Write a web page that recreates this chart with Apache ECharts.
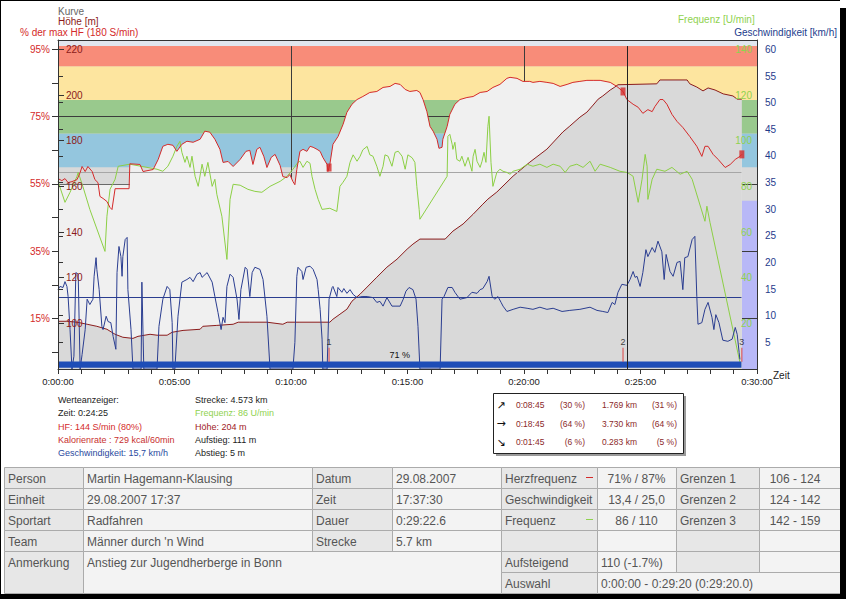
<!DOCTYPE html>
<html><head><meta charset="utf-8">
<script src="https://cdn.jsdelivr.net/npm/echarts@6/dist/echarts.min.js"></script>
<style>html,body{margin:0;padding:0;background:#fff;}#c{width:846px;height:599px;}</style>
</head><body><div id="c"></div>
<script>
// ---------------- DATA ----------------
// heart rate in % of max HF (180 S/min): [seconds, percent]
const hrData = [[0,56.6],[10,56.0],[18,56.6],[26,55.4],[36,55.7],[49,56.3],[57,58.4],[62,60.2],[70,58.7],[77,60.2],[88,58.7],[95,56.3],[103,55.4],[108,51.3],[116,50.7],[126,49.8],[134,48.0],[139,47.4],[147,53.6],[183,53.6],[185,61.0],[211,60.8],[219,58.7],[245,59.3],[258,62.3],[270,66.2],[283,66.8],[296,66.5],[306,64.7],[319,66.8],[332,67.7],[348,67.4],[366,68.3],[378,70.7],[391,70.4],[404,68.3],[417,65.3],[425,61.4],[438,61.7],[451,60.2],[469,62.3],[484,64.7],[494,65.0],[502,60.8],[512,65.3],[520,65.9],[530,63.2],[538,59.9],[549,62.9],[559,63.8],[572,60.5],[579,57.2],[590,56.9],[597,57.8],[605,55.7],[610,54.8],[615,59.3],[623,64.7],[631,65.3],[641,64.7],[649,66.2],[657,65.9],[667,65.3],[675,64.7],[682,62.9],[693,60.8],[695,58.7],[700,60.8],[708,66.8],[721,69.1],[734,72.7],[744,76.3],[757,78.7],[770,80.1],[785,81.0],[803,82.2],[821,82.5],[837,83.7],[855,84.0],[868,84.9],[881,84.6],[894,83.1],[906,82.5],[924,82.8],[932,82.2],[940,80.1],[950,76.5],[958,72.1],[966,70.7],[976,68.3],[981,65.6],[989,65.9],[991,68.3],[1002,72.1],[1009,75.7],[1022,78.7],[1035,80.1],[1053,80.7],[1069,81.0],[1087,82.2],[1105,82.5],[1120,83.7],[1138,84.6],[1156,86.4],[1164,86.7],[1182,86.4],[1197,85.5],[1215,85.5],[1223,85.2],[1241,85.5],[1259,85.2],[1275,84.9],[1293,84.0],[1311,84.6],[1326,85.2],[1344,85.5],[1362,85.8],[1378,85.8],[1396,85.8],[1422,85.2],[1439,84.0],[1455,82.5],[1465,80.1],[1481,78.7],[1494,77.8],[1506,76.0],[1519,77.1],[1530,76.5],[1537,78.0],[1550,80.1],[1558,80.1],[1568,78.7],[1581,75.7],[1594,73.6],[1609,71.8],[1627,69.1],[1645,66.2],[1658,63.2],[1666,66.2],[1674,66.2],[1687,63.8],[1700,62.3],[1718,59.9],[1731,60.8],[1744,62.3],[1756,63.2],[1761,63.8]];
// start of the HR area fill (first minutes held at this level)
const hrFillStart = [[0,54.8],[185,54.8]];

// altitude [seconds, m]
const altData = [[0,100.9],[23,100.9],[49,100.5],[75,99.6],[100,98.7],[126,97.4],[147,95.2],[167,93.9],[193,93.4],[206,94.3],[237,95.2],[255,94.8],[281,94.8],[294,96.1],[322,96.9],[366,97.4],[373,98.7],[409,99.1],[451,99.6],[464,100.5],[494,100.5],[538,100.5],[579,99.6],[590,100.5],[623,100.5],[700,100.5],[708,101.8],[726,104.0],[744,106.2],[757,109.7],[778,112.8],[796,115.9],[821,120.2],[847,124.6],[873,128.1],[899,132.5],[914,134.7],[932,136.9],[997,136.9],[1017,140.4],[1043,143.5],[1069,147.8],[1094,152.2],[1107,154.4],[1130,157.5],[1172,164.5],[1215,170.6],[1259,176.3],[1300,183.8],[1318,186.4],[1344,190.3],[1362,192.5],[1378,195.6],[1391,198.2],[1403,199.6],[1422,202.2],[1434,203.5],[1442,204.5],[1542,204.9],[1550,206.6],[1620,206.6],[1627,204.9],[1645,203.5],[1661,201.8],[1674,203.1],[1692,202.2],[1713,200.5],[1738,199.6],[1749,198.2],[1761,198.2]];

// cadence (Frequenz) [seconds, U/min]
const cadData = [[0,82.2],[18,73.0],[31,77.4],[49,84.4],[52,86.1],[64,80.0],[82,69.9],[121,51.5],[126,66.9],[134,78.7],[147,83.1],[155,88.8],[185,89.7],[255,87.5],[270,86.6],[283,88.8],[296,93.2],[306,97.5],[314,99.7],[319,94.9],[327,90.5],[332,93.2],[340,88.3],[345,93.2],[353,84.4],[361,80.0],[371,89.7],[378,84.4],[386,90.5],[397,80.0],[404,83.1],[409,76.5],[422,66.9],[435,48.0],[443,74.3],[451,80.9],[469,80.5],[489,78.7],[507,77.8],[525,77.4],[546,80.0],[572,82.2],[590,84.4],[605,87.5],[618,90.5],[623,91.0],[631,88.3],[641,91.0],[649,90.1],[654,84.4],[662,78.7],[670,74.3],[680,69.9],[700,70.4],[718,69.0],[726,80.0],[734,81.8],[744,84.4],[752,90.5],[760,93.8],[770,91.0],[778,93.2],[785,96.0],[796,97.5],[803,93.8],[811,93.2],[821,88.8],[829,84.4],[837,88.8],[842,93.8],[850,93.2],[860,88.8],[868,94.9],[876,95.4],[886,93.2],[894,87.5],[901,93.8],[912,92.5],[919,90.5],[924,80.0],[930,69.9],[932,65.6],[1002,84.4],[1004,101.9],[1009,102.8],[1015,98.4],[1017,96.2],[1022,99.3],[1027,91.8],[1035,91.0],[1040,93.2],[1048,88.8],[1056,92.7],[1066,86.6],[1069,93.2],[1074,96.2],[1079,91.0],[1087,88.3],[1092,91.0],[1097,94.9],[1102,90.5],[1107,106.3],[1110,110.7],[1115,90.5],[1120,80.0],[1130,86.1],[1138,87.5],[1146,86.6],[1156,86.1],[1164,85.3],[1172,86.6],[1190,87.5],[1208,89.7],[1223,88.8],[1241,89.7],[1259,88.3],[1275,89.7],[1293,88.8],[1306,86.1],[1318,88.8],[1336,89.7],[1352,88.3],[1370,91.0],[1383,86.6],[1396,89.7],[1422,88.3],[1447,86.6],[1465,86.1],[1473,85.3],[1481,84.4],[1494,73.0],[1504,83.1],[1512,94.0],[1517,88.8],[1519,74.3],[1530,83.1],[1542,87.5],[1563,86.6],[1581,88.3],[1602,85.3],[1620,86.6],[1633,83.1],[1666,64.7],[1671,71.3],[1679,64.2],[1756,2.9]];

// speed [seconds, km/h]
const spdData = [[0,14.9],[5,15.5],[13,15.3],[18,16.4],[23,15.5],[26,13.6],[31,7.4],[36,0],[41,2.4],[46,18.1],[52,17.8],[57,0],[62,2.7],[70,7.4],[75,13.1],[82,12.1],[90,13.1],[93,17.4],[98,20.9],[100,18.7],[106,14.9],[113,8.0],[116,7.4],[124,9.9],[129,8.9],[136,8.7],[142,6.1],[149,3.7],[152,18.1],[157,23.0],[162,21.1],[165,17.4],[167,21.1],[173,24.3],[178,24.7],[180,14.9],[188,7.4],[193,0],[214,0],[216,16.3],[221,0],[255,0],[260,8.0],[270,13.1],[281,15.5],[288,14.9],[294,8.7],[296,0],[301,0],[309,9.9],[319,16.3],[332,16.8],[340,17.2],[348,16.4],[358,17.8],[366,18.1],[371,17.2],[384,18.1],[397,16.3],[404,13.6],[412,10.6],[420,7.4],[425,9.7],[430,8.7],[435,15.5],[443,17.8],[451,17.2],[461,13.1],[466,9.3],[471,14.9],[482,19.1],[487,18.7],[494,13.6],[500,18.1],[507,19.1],[520,18.7],[528,16.8],[538,9.9],[546,0],[605,0],[610,5.0],[615,17.4],[618,19.1],[628,18.3],[631,16.8],[639,19.1],[649,19.3],[657,18.7],[667,16.8],[670,14.9],[675,11.2],[680,5.6],[682,0],[693,0],[698,13.1],[706,15.3],[708,15.5],[718,13.6],[721,15.3],[731,14.4],[736,15.1],[744,14.2],[752,14.9],[760,14.0],[770,13.4],[783,13.6],[796,13.6],[811,13.4],[821,12.5],[829,12.7],[837,11.8],[847,13.4],[860,11.8],[868,11.8],[881,11.8],[889,13.1],[896,14.6],[904,15.3],[914,14.9],[922,13.1],[927,8.0],[932,0],[984,0],[989,13.1],[994,13.6],[1004,15.3],[1015,15.3],[1022,14.4],[1035,13.1],[1053,13.4],[1066,14.4],[1079,14.2],[1087,14.9],[1094,15.1],[1105,16.4],[1110,17.4],[1118,13.6],[1125,13.1],[1133,13.6],[1141,12.5],[1146,11.8],[1156,10.8],[1172,11.2],[1190,11.6],[1208,11.4],[1223,11.2],[1241,11.6],[1259,11.2],[1275,11.4],[1298,10.8],[1318,11.0],[1344,11.2],[1370,11.6],[1388,11.0],[1403,10.8],[1416,10.6],[1427,12.5],[1434,12.1],[1442,14.4],[1452,15.9],[1465,15.7],[1473,16.8],[1481,18.3],[1486,17.2],[1491,17.4],[1499,15.5],[1506,18.1],[1514,22.4],[1519,21.1],[1530,22.8],[1537,21.9],[1545,24.0],[1555,22.0],[1561,16.8],[1566,21.5],[1576,18.3],[1584,17.4],[1594,20.0],[1602,20.2],[1609,14.9],[1614,20.9],[1622,21.1],[1633,24.3],[1640,24.9],[1645,13.6],[1648,8.4],[1658,8.7],[1666,11.2],[1674,12.5],[1684,9.7],[1689,7.4],[1694,10.2],[1702,8.7],[1712,5.4],[1725,5.2],[1736,5.6],[1744,7.8],[1749,6.5],[1754,3.1],[1756,1.8]];

const hrZoneBounds = [60, 70, 80, 90, 96];
const outsideZoneBand = [1760, 1800, 0, 50];
const lapTimes = [698, 1455, 1761];
const lapHR = [59.9, 82.5, 63.8];
const lapNames = ['1', '2', '3'];
const avgSpeed = 13.4;
const avgCadence = 86;
const avgHRText = '71 %';
const cursorTime = 1465;
const dataEnd = 1760;
const pctLabelValues = [15, 35, 55, 75, 95];
const pctTickValues = [5, 15, 25, 35, 45, 55, 65, 75, 85, 95];
const pctGridValues = [15, 35, 55, 75];
const timeGridValues = [600, 1200];

// texts
const infoLeft = ['Werteanzeiger:', 'Zeit: 0:24:25', 'HF: 144 S/min (80%)', 'Kalorienrate : 729 kcal/60min', 'Geschwindigkeit: 15,7 km/h'];
const infoRight = ['Strecke: 4.573 km', 'Frequenz: 86 U/min', 'Höhe: 204 m', 'Aufstieg: 111 m', 'Abstieg: 5 m'];
const boxArrows = ['↗', '→', '↘'];
const boxTimes = ['0:08:45', '0:18:45', '0:01:45'];
const boxTimePct = ['(30 %)', '(64 %)', '(6 %)'];
const boxDist = ['1.769 km', '3.730 km', '0.283 km'];
const boxDistPct = ['(31 %)', '(64 %)', '(5 %)'];
const leftLabels = ['Person', 'Einheit', 'Sportart', 'Team'];
const leftValues = ['Martin Hagemann-Klausing', '29.08.2007 17:37', 'Radfahren', "Männer durch 'n Wind"];
const midLabels = ['Datum', 'Zeit', 'Dauer', 'Strecke'];
const midValues = ['29.08.2007', '17:37:30', '0:29:22.6', '5.7 km'];
const noteLabel = 'Anmerkung';
const noteText = 'Anstieg zur Jugendherberge in Bonn';
const statLabels = ['Herzfrequenz', 'Geschwindigkeit', 'Frequenz', '', 'Aufsteigend', 'Auswahl'];
const statValues = ['71% / 87%', '13,4 / 25,0', '86 / 110', '', '110 (-1.7%)', '0:00:00 - 0:29:20 (0:29:20.0)'];
const limitLabels = ['Grenzen 1', 'Grenzen 2', 'Grenzen 3', '', ''];
const limitValues = ['106 - 124', '124 - 142', '142 - 159', '', ''];

// ---------------- STYLE / LAYOUT ----------------
const FONT = '"Liberation Sans", Arial, Helvetica, sans-serif';
const C_HR = '#d42a2a', C_ALT = '#8b1c1c', C_CAD = '#8ccf45', C_SPD = '#2a3d90';
const zoneColors = ['#94c6de', '#99c98d', '#fde59f', '#f88c79'];

function hms(s) {
  const h = Math.floor(s / 3600), m = Math.floor((s % 3600) / 60), ss = Math.round(s % 60);
  return h + ':' + String(m).padStart(2, '0') + ':' + String(ss).padStart(2, '0');
}

const zoneAreas = [];
for (let i = 0; i < hrZoneBounds.length - 1; i++) {
  zoneAreas.push([{ yAxis: hrZoneBounds[i], itemStyle: { color: zoneColors[i] } }, { yAxis: hrZoneBounds[i + 1] }]);
}
zoneAreas.push([{ yAxis: hrZoneBounds[hrZoneBounds.length - 1], itemStyle: { color: '#e1e6ee' } }, { yAxis: 97.8 }]);
zoneAreas.push([{ coord: [outsideZoneBand[0], outsideZoneBand[2]], itemStyle: { color: '#b8b8f7' } }, { coord: [outsideZoneBand[1], outsideZoneBand[3]] }]);

const gridLines = pctGridValues.map(v => ({ yAxis: v }))
  .concat(timeGridValues.map(t => [{ coord: [t, 0] }, { coord: [t, hrZoneBounds[hrZoneBounds.length - 1]] }]));

const hrFill = hrFillStart.concat(hrData.filter(p => p[0] >= 185));

const noSym = { symbol: 'none', showSymbol: false };

// ---------------- GRAPHIC (texts, box, table) ----------------
const G = [];
function T(x, y, text, color, size, align, family) {
  G.push({ type: 'text', x: x, y: y, z: 100, silent: true,
    style: { text: text, fill: color, font: size + 'px ' + (family || FONT), textAlign: align || 'left', textVerticalAlign: 'middle' } });
}
function R(x, y, w, h, fill, stroke, z) {
  G.push({ type: 'rect', z: z || 99, silent: true, shape: { x: x, y: y, width: w, height: h },
    style: { fill: fill, stroke: stroke || null, lineWidth: 1 } });
}
// header texts
T(58, 11.5, 'Kurve', '#666', 10);
T(58, 21.5, 'Höhe [m]', '#8b1a1a', 10);
T(20, 32.5, '% der max HF (180 S/min)', C_HR, 10);
T(678, 19.5, 'Frequenz [U/min]', '#8fd24f', 10);
T(837, 32.5, 'Geschwindigkeit [km/h]', '#23408e', 10, 'right');
T(773, 375, 'Zeit', '#222', 10);
// info
const infoLeftColors = ['#222', '#222', C_HR, '#c8302f', '#2a4aa0'];
const infoRightColors = ['#222', '#8fd24f', '#a0201e', '#222', '#222'];
const infoY = [400, 413, 426.5, 440, 453];
infoLeft.forEach((s, i) => T(58, infoY[i], s, infoLeftColors[i], 9));
infoRight.forEach((s, i) => T(195, infoY[i], s, infoRightColors[i], 9));
// box
R(496, 396, 190, 60, '#9a9a9a', null, 98);
R(493.5, 393.5, 190, 60, '#ffffff', '#222', 99);
const boxY = [405, 423.5, 442];
for (let i = 0; i < 3; i++) {
  T(501, boxY[i], boxArrows[i], '#111', 11, 'center', '"DejaVu Sans", sans-serif');
  T(516, boxY[i], boxTimes[i], '#8b2a2a', 8.5);
  T(585, boxY[i], boxTimePct[i], '#8b2a2a', 8.5, 'right');
  T(602, boxY[i], boxDist[i], '#8b2a2a', 8.5);
  T(677, boxY[i], boxDistPct[i], '#8b2a2a', 8.5, 'right');
}
// table
const tc = [4, 83, 312, 392, 501, 597, 676, 759, 841];
const tr = [467, 488, 509, 530, 551, 572, 593];
function cell(c0, c1, r0, r1, kind, text, align, dx) {
  const x0 = tc[c0], x1 = tc[c1], y0 = tr[r0], y1 = tr[r1];
  R(x0 + 0.5, y0 + 0.5, x1 - x0, y1 - y0, kind === 'L' ? '#e7e7e7' : '#f3f3f3', '#ababab');
  if (text) {
    const x = align === 'center' ? (x0 + x1) / 2 + (dx || 0) : x0 + 4;
    T(x, y0 + 12, text, '#555', 12, align || 'left');
  }
}
for (let r = 0; r < 4; r++) {
  cell(0, 1, r, r + 1, 'L', leftLabels[r]);
  cell(1, 2, r, r + 1, 'V', leftValues[r]);
  cell(2, 3, r, r + 1, 'L', midLabels[r]);
  cell(3, 4, r, r + 1, 'V', midValues[r]);
}
cell(0, 1, 4, 6, 'L', noteLabel);
cell(1, 4, 4, 6, 'V', noteText);
for (let r = 0; r < 5; r++) {
  cell(4, 5, r, r + 1, 'L', statLabels[r]);
  cell(5, 6, r, r + 1, 'V', statValues[r], r < 3 ? 'center' : 'left');
  cell(6, 7, r, r + 1, 'L', limitLabels[r]);
  cell(7, 8, r, r + 1, 'V', limitValues[r], 'center', -5);
}
cell(4, 5, 5, 6, 'L', statLabels[5]);
cell(5, 8, 5, 6, 'V', statValues[5]);
// legend dashes in table
G.push({ type: 'line', z: 101, silent: true, shape: { x1: 586, y1: 477.5, x2: 593, y2: 477.5 }, style: { stroke: C_HR, lineWidth: 1 } });
G.push({ type: 'line', z: 101, silent: true, shape: { x1: 586, y1: 519.5, x2: 593, y2: 519.5 }, style: { stroke: '#8fd24f', lineWidth: 1 } });
// window frame with shadow
R(0, 0, 1, 599, '#000', null, 110);
R(0, 0, 840, 1, '#000', null, 110);
R(840, 8, 6, 591, '#000', null, 110);
R(0, 594, 846, 5, '#000', null, 110);

// ---------------- CHART ----------------
const chart = echarts.init(document.getElementById('c'), null, { renderer: 'svg', width: 846, height: 599 });
const option = {
  animation: false,
  backgroundColor: '#ffffff',
  textStyle: { fontFamily: FONT },
  grid: { left: 58, right: 89, top: 40, bottom: 230, show: true, backgroundColor: '#d9d9d9', borderWidth: 0 },
  xAxis: [
    { type: 'value', min: 0, max: 1800, interval: 300, z: 10,
      axisLine: { show: true, onZero: false, lineStyle: { color: '#333', width: 1 } },
      axisTick: { show: true, length: 5, lineStyle: { color: '#333' } },
      minorTick: { show: true, splitNumber: 5, length: 5, lineStyle: { color: '#333' } },
      splitLine: { show: false }, minorSplitLine: { show: false },
      axisLabel: { formatter: hms, color: '#222', fontSize: 9.5, margin: 7 } },
    { type: 'value', position: 'top', min: 0, max: 1800, z: 10,
      axisLine: { show: true, onZero: false, lineStyle: { color: '#333' } },
      axisTick: { show: false }, axisLabel: { show: false }, splitLine: { show: false } }
  ],
  yAxis: [
    { type: 'value', position: 'left', min: 0, max: 97.8, z: 10,
      axisLine: { show: true, onZero: false, lineStyle: { color: '#333' } },
      axisTick: { show: true, length: 6, customValues: pctTickValues, lineStyle: { color: '#333' } },
      axisLabel: { customValues: pctLabelValues, formatter: '{value}%', color: '#d42a2a', fontSize: 10, margin: 8 },
      splitLine: { show: false } },
    { type: 'value', position: 'left', min: 80, max: 224.1, interval: 20, z: 10,
      axisLine: { show: false },
      axisTick: { show: true, inside: true, length: 6, lineStyle: { color: '#333' } },
      axisLabel: { inside: true, color: '#8b1a1a', fontSize: 10, margin: 8, showMinLabel: false, showMaxLabel: false },
      splitLine: { show: false } },
    { type: 'value', position: 'right', min: 0, max: 144.1, interval: 20, z: 10,
      axisLine: { show: true, onZero: false, lineStyle: { color: '#333' } },
      axisTick: { show: false },
      axisLabel: { inside: true, color: '#8fd24f', fontSize: 10, margin: 5, showMinLabel: false, showMaxLabel: false },
      splitLine: { show: false } },
    { type: 'value', position: 'right', min: 0, max: 61.76, interval: 5, z: 10,
      axisLine: { show: false },
      axisTick: { show: true, length: 5, lineStyle: { color: '#333' } },
      axisLabel: { color: '#1f3c8c', fontSize: 10, margin: 8, showMinLabel: false, showMaxLabel: false },
      splitLine: { show: false } }
  ],
  series: [
    Object.assign({ name: 'zones', type: 'line', yAxisIndex: 0, data: [[0, 0]], lineStyle: { width: 0 }, silent: true, z: 1,
      markArea: { silent: true, z: 1, data: zoneAreas } }, noSym),
    Object.assign({ name: 'gridlines', type: 'line', yAxisIndex: 0, data: [[0, 0]], lineStyle: { width: 0 }, silent: true, z: 1,
      markLine: { silent: true, z: 2, symbol: ['none', 'none'], label: { show: false },
        lineStyle: { color: '#3c3c3c', width: 1, type: 'solid' }, data: gridLines } }, noSym),
    Object.assign({ name: 'HF-Fläche', type: 'line', yAxisIndex: 0, data: hrFill, lineStyle: { width: 0 },
      areaStyle: { color: '#f0f0f0', opacity: 1 }, silent: true, z: 3 }, noSym),
    Object.assign({ name: 'Höhe', type: 'line', yAxisIndex: 1, data: altData, lineStyle: { color: C_ALT, width: 1 },
      areaStyle: { color: '#d9d9d9', opacity: 1 }, silent: true, z: 4 }, noSym),
    Object.assign({ name: 'Frequenz', type: 'line', yAxisIndex: 2, data: cadData, lineStyle: { color: C_CAD, width: 1 }, silent: true, z: 6,
      markLine: { silent: true, z: 5, symbol: ['none', 'none'], label: { show: false },
        lineStyle: { color: '#a6a6a6', width: 1, type: 'solid' },
        data: [[{ coord: [0, avgCadence] }, { coord: [dataEnd, avgCadence] }]] } }, noSym),
    Object.assign({ name: 'Geschwindigkeit', type: 'line', yAxisIndex: 3, data: spdData, lineStyle: { color: C_SPD, width: 1 }, silent: true, z: 7,
      markLine: { silent: true, z: 6, symbol: ['none', 'none'], label: { show: false },
        lineStyle: { color: C_SPD, width: 1, type: 'solid' },
        data: [[{ coord: [0, avgSpeed] }, { coord: [dataEnd, avgSpeed] }]] } }, noSym),
    Object.assign({ name: 'HF', type: 'line', yAxisIndex: 0, data: hrData, lineStyle: { color: C_HR, width: 1 }, silent: true, z: 8,
      markLine: { silent: true, z: 9, symbol: ['none', 'none'], label: { show: false },
        lineStyle: { color: '#222', width: 1, type: 'solid' },
        data: [[{ coord: [cursorTime, 0] }, { coord: [cursorTime, hrZoneBounds[hrZoneBounds.length - 1]] }]] },
      markArea: { silent: true, z: 9, itemStyle: { color: '#1e4db7' },
        label: { show: true, position: 'top', formatter: avgHRText, color: '#111', fontSize: 9, distance: 2 },
        data: [[{ coord: [0, 0.4] }, { coord: [dataEnd, 2.2] }]] } }, noSym),
    { name: 'Runden', type: 'scatter', yAxisIndex: 0, silent: true, z: 9,
      data: lapTimes.map((t, i) => [t, lapHR[i]]), symbol: 'rect', symbolSize: [5, 8], itemStyle: { color: C_HR } },
    { name: 'Rundenmarken', type: 'scatter', yAxisIndex: 0, silent: true, z: 9,
      data: lapTimes.map(t => [t, 4.2]), symbol: 'rect', symbolSize: [1, 14], itemStyle: { color: '#e02020' },
      label: { show: true, position: 'top', distance: 1, formatter: p => lapNames[p.dataIndex], color: '#111', fontSize: 9 } }
  ],
  graphic: { elements: G }
};
chart.setOption(option);
</script></body></html>
